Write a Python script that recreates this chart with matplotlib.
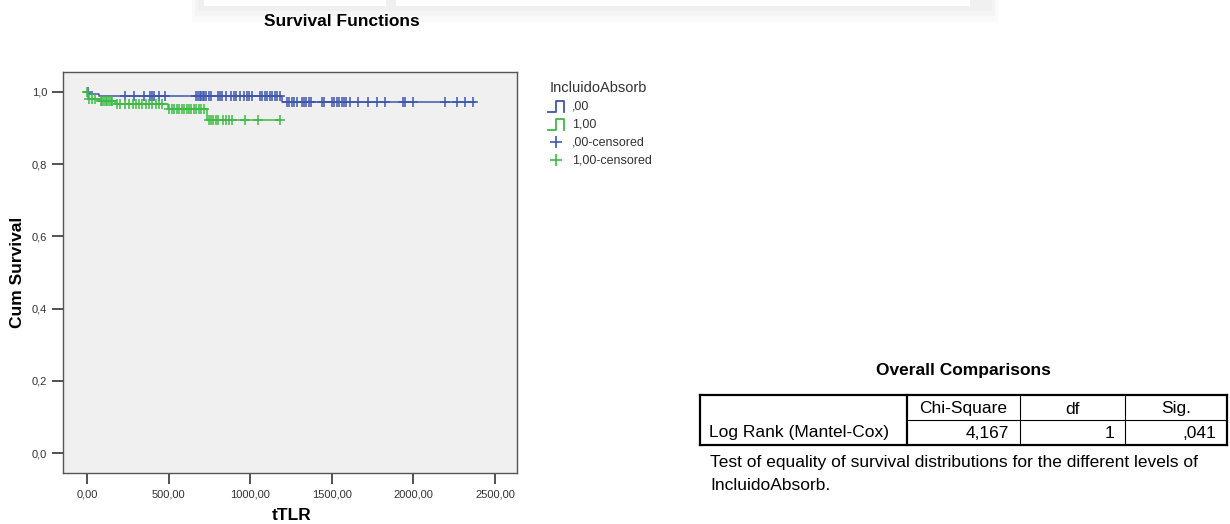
import numpy as np
import matplotlib.pyplot as plt
from matplotlib.lines import Line2D
from matplotlib.patches import Rectangle

plt.rcParams['font.family'] = ['Liberation Sans', 'DejaVu Sans']

# Kaplan-Meier steps (time, cumulative survival) per group
blue_event_t = [0, 15, 75, 1195]
blue_surv = [1.0, 0.995, 0.989, 0.971]
blue_end = 2380
blue_cens = [4, 230, 290, 350, 385, 398, 410, 442, 475, 670, 680, 690, 700, 710,
             720, 730, 745, 760, 800, 815, 830, 850, 885, 900, 915, 935, 965,
             980, 995, 1010, 1060, 1075, 1090, 1105, 1120, 1135, 1150, 1165,
             1185, 1225, 1240, 1255, 1270, 1285, 1315, 1330, 1345, 1360, 1375,
             1440, 1455, 1500, 1515, 1530, 1545, 1560, 1575, 1590, 1610, 1660,
             1720, 1780, 1825, 1935, 1950, 1995, 2195, 2265, 2315, 2365]

green_event_t = [0, 5, 80, 172, 496, 733]
green_surv = [1.0, 0.980, 0.976, 0.966, 0.953, 0.921]
green_end = 1190
green_cens = [2, 12, 30, 50, 85, 95, 105, 115, 125, 135, 145, 155, 185, 200,
              230, 255, 280, 300, 320, 340, 360, 380, 400, 420, 440, 460, 505,
              520, 535, 550, 565, 580, 595, 610, 625, 640, 655, 670, 685, 700,
              715, 745, 760, 775, 790, 805, 835, 850, 870, 890, 970, 1050, 1185]

groups = [',00', '1,00']
colors = ['#3f56ad', '#3cbb45']

y_ticks = [0.0, 0.2, 0.4, 0.6, 0.8, 1.0]
x_ticks = [0, 500, 1000, 1500, 2000, 2500]

table_cols = ['', 'Chi-Square', 'df', 'Sig.']
table_row = ['Log Rank (Mantel-Cox)', '4,167', '1', ',041']


def surv_at(t, ev_t, ev_s):
    idx = np.searchsorted(ev_t, t, side='right') - 1
    return np.asarray(ev_s)[idx]


W, H = 1230, 524
fig = plt.figure(figsize=(W / 100, H / 100), dpi=100)


def fx(px):
    return px / W


def fy(py):
    return 1 - py / H


# faint page artefact (white strip with soft shadow) at the top
for pad, shade in [(16, '#fafafa'), (10, '#f5f5f5'), (5, '#f0f0f0')]:
    fig.patches.append(Rectangle((fx(200 - pad / 2), fy(6 + pad)), fx(790 + pad), (6 + pad) / H,
                                 transform=fig.transFigure, facecolor=shade,
                                 edgecolor='none', zorder=0))
fig.patches.append(Rectangle((fx(204), fy(6)), fx(182), 6 / H, transform=fig.transFigure,
                             facecolor='white', edgecolor='none', zorder=1))
fig.patches.append(Rectangle((fx(396), fy(6)), fx(574), 6 / H, transform=fig.transFigure,
                             facecolor='white', edgecolor='none', zorder=1))

ax = fig.add_axes([fx(63), fy(473), fx(517 - 63), (473 - 72) / H])
ax.set_facecolor('#f0f0f0')

for ev_t, ev_s, end, cens, c in [(blue_event_t, blue_surv, blue_end, blue_cens, colors[0]),
                                 (green_event_t, green_surv, green_end, green_cens, colors[1])]:
    xs = list(ev_t) + [end]
    ys = list(ev_s) + [ev_s[-1]]
    ax.step(xs, ys, where='post', color=c, lw=1.1)
    ax.plot(cens, surv_at(cens, ev_t, ev_s), linestyle='none', marker='+',
            ms=7, mew=1.1, color=c)

ax.set_xlim(-147, 2635)
ax.set_ylim(-0.055, 1.055)
ax.set_yticks(y_ticks)
ax.set_yticklabels([f'{v:.1f}'.replace('.', ',') for v in y_ticks])
ax.set_xticks(x_ticks)
ax.set_xticklabels([f'{v:.2f}'.replace('.', ',') for v in x_ticks])
ax.tick_params(length=8, width=1.2, color='#333333', labelsize=8, labelcolor='#333333')
ax.tick_params(axis='x', pad=4)
for s in ax.spines.values():
    s.set_color('#555555')
    s.set_linewidth(1)

fig.text(fx(292), fy(515), 'tTLR', fontsize=12.5, fontweight='bold', ha='center', va='center')
fig.text(fx(18), fy(272), 'Cum Survival', rotation=90, fontsize=12.5, fontweight='bold',
         ha='center', va='center')
fig.text(fx(342), fy(22), 'Survival Functions', fontsize=12.5, fontweight='bold',
         ha='center', va='center')

# legend
fig.text(fx(550), fy(88), 'IncluidoAbsorb', fontsize=10.5, color='#333333', va='center')
for i, (g, c) in enumerate(zip(groups, colors)):
    yc = 106 + 18 * i
    xs_icon = [548, 556, 556, 564, 564]
    ys_icon = [yc + 6, yc + 6, yc - 5, yc - 5, yc + 6]
    fig.add_artist(Line2D([fx(v) for v in xs_icon], [fy(v) for v in ys_icon],
                          transform=fig.transFigure, color=c, lw=1.3))
    fig.text(fx(572), fy(yc), g, fontsize=9, color='#333333', va='center')
for i, (g, c) in enumerate(zip(groups, colors)):
    yc = 142 + 18 * i
    fig.add_artist(Line2D([fx(556)], [fy(yc)], transform=fig.transFigure, color=c,
                          marker='+', ms=9, mew=1.2, linestyle='none'))
    fig.text(fx(572), fy(yc), g + '-censored', fontsize=9, color='#333333', va='center')

# Overall comparisons table
fig.text(fx(963), fy(371), 'Overall Comparisons', fontsize=12.5, fontweight='bold',
         ha='center', va='center')
col_x = [700, 907, 1020, 1125, 1227]
row_y = [395, 420, 445]


def hline(x0, x1, y, lw):
    fig.add_artist(Line2D([fx(x0), fx(x1)], [fy(y), fy(y)], transform=fig.transFigure,
                          color='black', lw=lw))


def vline(x, y0, y1, lw):
    fig.add_artist(Line2D([fx(x), fx(x)], [fy(y0), fy(y1)], transform=fig.transFigure,
                          color='black', lw=lw))


hline(col_x[0], col_x[-1], row_y[0], 1.6)
hline(col_x[0], col_x[-1], row_y[-1], 1.6)
hline(col_x[1], col_x[-1], row_y[1], 0.8)
vline(col_x[0], row_y[0], row_y[-1], 1.6)
vline(col_x[-1], row_y[0], row_y[-1], 1.6)
vline(col_x[1], row_y[0], row_y[-1], 1.6)
vline(col_x[2], row_y[0], row_y[-1], 0.8)
vline(col_x[3], row_y[0], row_y[-1], 0.8)

for j in range(1, 4):
    fig.text(fx((col_x[j] + col_x[j + 1]) / 2), fy(409), table_cols[j], fontsize=12.5,
             ha='center', va='center')
fig.text(fx(709), fy(433), table_row[0], fontsize=12.5, ha='left', va='center')
for j in range(1, 4):
    fig.text(fx(col_x[j + 1] - 11), fy(433), table_row[j], fontsize=12.5,
             ha='right', va='center')

fig.text(fx(710), fy(463), 'Test of equality of survival distributions for the different levels of',
         fontsize=12.5, ha='left', va='center')
fig.text(fx(710), fy(485), 'IncluidoAbsorb.', fontsize=12.5, ha='left', va='center')

fig.savefig('out.png', dpi=100)
